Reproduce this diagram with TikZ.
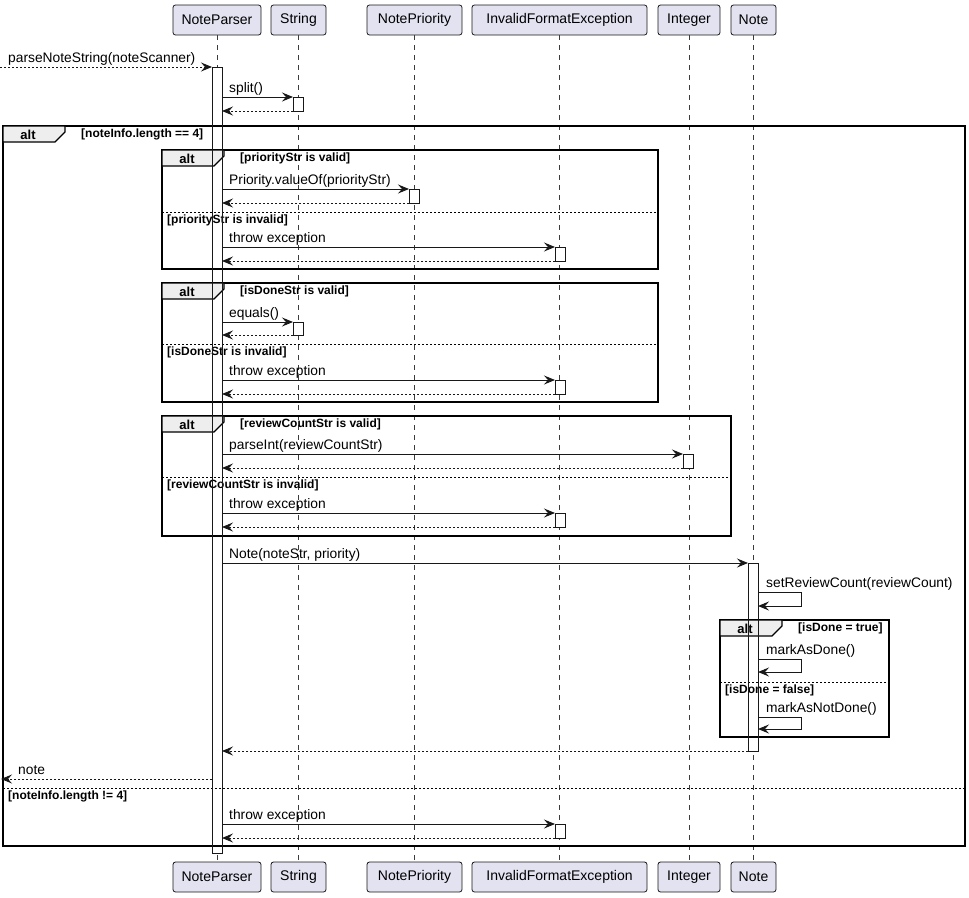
\documentclass[tikz,border=0pt]{standalone}
\usepackage{fontspec}
\setmainfont{Liberation Sans}
\usetikzlibrary{arrows.meta,calc}

\definecolor{partfill}{HTML}{E2E2F0}
\definecolor{partline}{HTML}{181818}
\definecolor{tabfill}{HTML}{EEEEEE}

\tikzset{
  part/.style={draw=partline, fill=partfill, rounded corners=2.5pt, line width=0.8pt,
    minimum height=30pt, inner sep=0pt, font=\fontsize{14}{16}\selectfont},
  lifeline/.style={draw=partline!85, line width=0.6pt, dash pattern=on 5pt off 5pt},
  act/.style={fill=white, minimum width=10pt, inner sep=0pt, outer sep=0pt, anchor=north},
  actline/.style={draw=partline, line width=0.9pt},
  msg/.style={draw=partline, line width=0.9pt, -{Stealth[length=11pt,width=9pt,inset=4pt]}},
  ret/.style={msg, dash pattern=on 2pt off 2pt},
  lbl/.style={font=\fontsize{13.8}{15}\selectfont, anchor=base west, inner sep=0pt},
  frame/.style={draw=black, line width=1.5pt},
  tab/.style={draw=black, line width=1.2pt, fill=tabfill},
  sep/.style={draw=black, line width=0.7pt, dash pattern=on 2pt off 2pt},
  cond/.style={font=\bfseries\fontsize{12}{13}\selectfont, anchor=west, inner sep=0pt},
  altlbl/.style={font=\bfseries\fontsize{13}{15}\selectfont, inner sep=0pt},
}

% alt fragment: name, x1, y1, x2, y2, guard
\newcommand\altframe[6]{%
  \draw[frame] (#2,#3) rectangle (#4,#5);
  \draw[tab] (#2,#3) -- (#2+62,#3) -- (#2+62,#3+6) -- (#2+52,#3+16) -- (#2,#3+16) -- cycle;
  \node[altlbl] (#1alt) at (#2+25,#3+8.5) {alt};
  \node[cond] (#1guard) at (#2+78,#3+8.5) {#6};
}
% else divider: name, x1, x2, y, guard
\newcommand\elsepart[5]{%
  \draw[sep] (#2,#4) -- (#3,#4);
  \node[cond] (#1else) at (#2+5,#4+8) {#5};
}
% call from an activation bar to another one, with its dashed reply
\newcommand\callret[4]{%
  \draw[msg] (#2.east |- #3.north) -- (#3.north west);
  \path (#2.east |- #3.north) ++(7,-5) node[lbl] (#1) {#4};
  \draw[ret] (#3.south west) -- (#2.east |- #3.south);
}
% self call on an activation bar: name, bar, top y, bottom y, label
\newcommand\selfcall[5]{%
  \draw[msg] (#2.east |- 0,#3) -- ($(#2.east |- 0,#3)+(43,0)$) -- ($(#2.east |- 0,#4)+(43,0)$) -- (#2.east |- 0,#4);
  \path (#2.east |- 0,#3) ++(8,-5) node[lbl] (#1) {#5};
}

\begin{document}
\begin{tikzpicture}[x=1pt,y=-1pt]
\useasboundingbox (0,0) rectangle (969,897);

% participants, top and bottom
\foreach \n/\x/\w/\t in {NP/217/88/NoteParser, S/298.5/55/String, NPr/414.5/95/NotePriority,
    IFE/559.5/175/InvalidFormatException, I/689/62/Integer, N/753.5/45/Note} {
  \node[part, minimum width=\w pt] (top\n) at (\x,20) {\t};
  \node[part, minimum width=\w pt] (bot\n) at (\x,877) {\t};
}

% lifelines
\foreach \n in {NP,S,NPr,IFE,I,N}
  \draw[lifeline] (top\n.south) -- (bot\n.north);

% activation bars (fill first, outline later)
\node[act, minimum height=786pt] (actNP) at (217,67) {};
\node[act, minimum height=14pt] (actS1) at (298,97) {};
\node[act, minimum height=14pt] (actNPr) at (414,189) {};
\node[act, minimum height=14pt] (actE1) at (560,247) {};
\node[act, minimum height=13pt] (actS2) at (298,322) {};
\node[act, minimum height=14pt] (actE2) at (560,380) {};
\node[act, minimum height=14pt] (actI) at (688,454) {};
\node[act, minimum height=14pt] (actE3) at (560,513) {};
\node[act, minimum height=188pt] (actN) at (753,563) {};
\node[act, minimum height=14pt] (actE4) at (560,824) {};

% combined fragments
\altframe{outer}{3}{126}{965}{846}{[noteInfo.length == 4]}
\elsepart{outer}{3}{965}{788}{[noteInfo.length != 4]}
\altframe{prio}{162}{150}{658}{269}{[priorityStr is valid]}
\elsepart{prio}{162}{658}{212}{[priorityStr is invalid]}
\altframe{done}{162}{283}{658}{402}{[isDoneStr is valid]}
\elsepart{done}{162}{658}{344}{[isDoneStr is invalid]}
\altframe{rev}{162}{416}{731}{536}{[reviewCountStr is valid]}
\elsepart{rev}{162}{731}{477}{[reviewCountStr is invalid]}
\altframe{flag}{720}{620}{889}{737}{[isDone = true]}
\elsepart{flag}{720}{889}{682}{[isDone = false]}

% activation bar outlines
\foreach \a in {actNP,actS1,actNPr,actE1,actS2,actE2,actI,actE3,actN,actE4}
  \draw[actline] (\a.north west) rectangle (\a.south east);

% incoming call and final reply
\coordinate (caller) at (0,67);
\coordinate (callerback) at (1,779);
\draw[ret] (caller) -- (actNP.north west);
\node[lbl] (mParse) at (8,62) {parseNoteString(noteScanner)};

% messages
\callret{mSplit}{actNP}{actS1}{split()}
\callret{mPrio}{actNP}{actNPr}{Priority.valueOf(priorityStr)}
\callret{mThrowA}{actNP}{actE1}{throw exception}
\callret{mEq}{actNP}{actS2}{equals()}
\callret{mThrowB}{actNP}{actE2}{throw exception}
\callret{mParseInt}{actNP}{actI}{parseInt(reviewCountStr)}
\callret{mThrowC}{actNP}{actE3}{throw exception}
\callret{mNew}{actNP}{actN}{Note(noteStr, priority)}
\callret{mThrowD}{actNP}{actE4}{throw exception}

\selfcall{mSetRev}{actN}{592}{606}{setReviewCount(reviewCount)}
\selfcall{mDone}{actN}{659}{672}{markAsDone()}
\selfcall{mNotDone}{actN}{717}{729}{markAsNotDone()}

\draw[ret] (actNP.west |- callerback) -- (callerback);
\node[lbl] (mNote) at (18,774) {note};
\end{tikzpicture}
\end{document}
